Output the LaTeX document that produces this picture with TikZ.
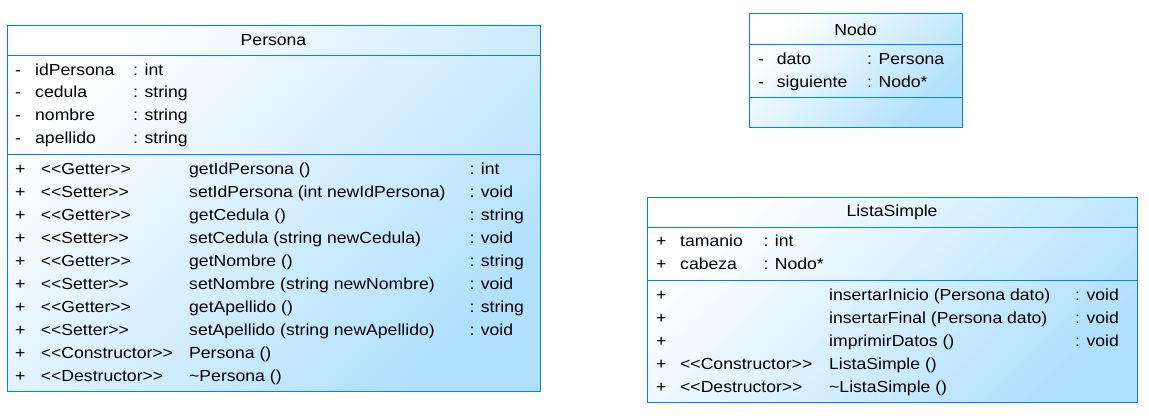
\documentclass[tikz,border=0pt]{standalone}
\usepackage{fontspec}
\setmainfont{Liberation Sans}[Ligatures=TeXOff,FakeStretch=1.1]
\definecolor{umlline}{RGB}{0,128,255}
\definecolor{umlfill}{RGB}{176,224,255}
\begin{document}
\begin{tikzpicture}[x=1pt,y=-1pt,
  classbox/.style={draw=umlline,line width=1pt,top color=white,bottom color=umlfill,shading angle=45},
  classline/.style={draw=umlline,line width=1pt},
  member/.style={anchor=base west,inner sep=0pt,font=\fontsize{16}{19}\selectfont},
  title/.style={anchor=base,inner sep=0pt,font=\fontsize{16}{19}\selectfont}]
\useasboundingbox (0,0) rectangle (1149,418);
%\draw[step=50,gray,very thin] (0,0) grid (1149,418);
% Persona
\draw[classbox] (7,25) rectangle (540,391);
\draw[classline] (7,55) -- (540,55);
\draw[classline] (7,154) -- (540,154);
\node[title] (pTitle) at (273.5,45) {Persona};
\node[member] (pVisA) at (15,75) {-};
\node[member] (pAttA) at (35,75) {idPersona};
\node[member] (pTypA) at (133,75) {: int};
\node[member] (pVisB) at (15,97.7) {-};
\node[member] (pAttB) at (35,97.7) {cedula};
\node[member] (pTypB) at (133,97.7) {: string};
\node[member] (pVisC) at (15,120.4) {-};
\node[member] (pAttC) at (35,120.4) {nombre};
\node[member] (pTypC) at (133,120.4) {: string};
\node[member] (pVisD) at (15,143.1) {-};
\node[member] (pAttD) at (35,143.1) {apellido};
\node[member] (pTypD) at (133,143.1) {: string};
\node[member] (pOpVisA) at (15,174) {+};
\node[member] (pStA) at (40.7,174) {<<Getter>>};
\node[member] (pOpA) at (189,174) {getIdPersona ()};
\node[member] (pRetA) at (469.3,174) {: int};
\node[member] (pOpVisB) at (15,197) {+};
\node[member] (pStB) at (40.7,197) {<<Setter>>};
\node[member] (pOpB) at (189,197) {setIdPersona (int newIdPersona)};
\node[member] (pRetB) at (469.3,197) {: void};
\node[member] (pOpVisC) at (15,220) {+};
\node[member] (pStC) at (40.7,220) {<<Getter>>};
\node[member] (pOpC) at (189,220) {getCedula ()};
\node[member] (pRetC) at (469.3,220) {: string};
\node[member] (pOpVisD) at (15,243) {+};
\node[member] (pStD) at (40.7,243) {<<Setter>>};
\node[member] (pOpD) at (189,243) {setCedula (string newCedula)};
\node[member] (pRetD) at (469.3,243) {: void};
\node[member] (pOpVisE) at (15,266) {+};
\node[member] (pStE) at (40.7,266) {<<Getter>>};
\node[member] (pOpE) at (189,266) {getNombre ()};
\node[member] (pRetE) at (469.3,266) {: string};
\node[member] (pOpVisF) at (15,289) {+};
\node[member] (pStF) at (40.7,289) {<<Setter>>};
\node[member] (pOpF) at (189,289) {setNombre (string newNombre)};
\node[member] (pRetF) at (469.3,289) {: void};
\node[member] (pOpVisG) at (15,312) {+};
\node[member] (pStG) at (40.7,312) {<<Getter>>};
\node[member] (pOpG) at (189,312) {getApellido ()};
\node[member] (pRetG) at (469.3,312) {: string};
\node[member] (pOpVisH) at (15,335) {+};
\node[member] (pStH) at (40.7,335) {<<Setter>>};
\node[member] (pOpH) at (189,335) {setApellido (string newApellido)};
\node[member] (pRetH) at (469.3,335) {: void};
\node[member] (pOpVisI) at (15,358) {+};
\node[member] (pStI) at (40.7,358) {<<Constructor>>};
\node[member] (pOpI) at (189,358) {Persona ()};
\node[member] (pOpVisJ) at (15,381) {+};
\node[member] (pStJ) at (40.7,381) {<<Destructor>>};
\node[member] (pOpJ) at (189,381) {\textasciitilde Persona ()};
% Nodo
\draw[classbox] (749,13) rectangle (962,127);
\draw[classline] (749,44) -- (962,44);
\draw[classline] (749,97) -- (962,97);
\node[title] (nTitle) at (855.5,35) {Nodo};
\node[member] (nVisA) at (758,64.3) {-};
\node[member] (nAttA) at (776.7,64.3) {dato};
\node[member] (nTypA) at (867,64.3) {: Persona};
\node[member] (nVisB) at (758,87) {-};
\node[member] (nAttB) at (776.7,87) {siguiente};
\node[member] (nTypB) at (867,87) {: Nodo*};
% ListaSimple
\draw[classbox] (647,197) rectangle (1137,402);
\draw[classline] (647,227) -- (1137,227);
\draw[classline] (647,280) -- (1137,280);
\node[title] (lTitle) at (892,216.7) {ListaSimple};
\node[member] (lVisA) at (656,246.7) {+};
\node[member] (lAttA) at (680,246.7) {tamanio};
\node[member] (lTypA) at (763.3,246.7) {: int};
\node[member] (lVisB) at (656,269.5) {+};
\node[member] (lAttB) at (680,269.5) {cabeza};
\node[member] (lTypB) at (763.3,269.5) {: Nodo*};
\node[member] (lOpVisA) at (656,300) {+};
\node[member] (lOpA) at (829,300) {insertarInicio (Persona dato)};
\node[member] (lRetA) at (1075,300) {: void};
\node[member] (lOpVisB) at (656,323) {+};
\node[member] (lOpB) at (829,323) {insertarFinal (Persona dato)};
\node[member] (lRetB) at (1075,323) {: void};
\node[member] (lOpVisC) at (656,346) {+};
\node[member] (lOpC) at (829,346) {imprimirDatos ()};
\node[member] (lRetC) at (1075,346) {: void};
\node[member] (lOpVisD) at (656,369) {+};
\node[member] (lStD) at (680,369) {<<Constructor>>};
\node[member] (lOpD) at (829,369) {ListaSimple ()};
\node[member] (lOpVisE) at (656,392) {+};
\node[member] (lStE) at (680,392) {<<Destructor>>};
\node[member] (lOpE) at (829,392) {\textasciitilde ListaSimple ()};
\end{tikzpicture}
\end{document}
